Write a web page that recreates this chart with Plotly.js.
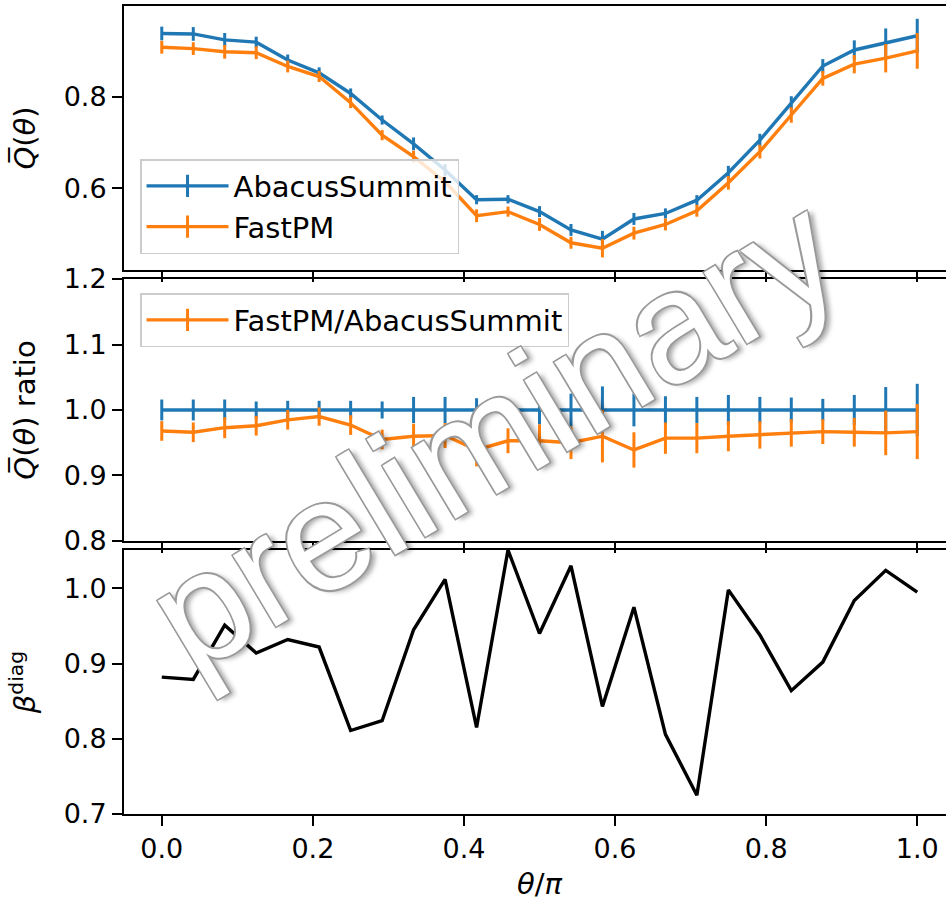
<!DOCTYPE html>
<html>
<head>
<meta charset="utf-8">
<script src="https://cdn.plot.ly/plotly-3.0.1.min.js"></script>
<style>
html,body{margin:0;padding:0;overflow:hidden;background:#fff;}
#chart{width:960px;height:901px;}
</style>
</head>
<body>
<div id="chart"></div>
<script>
// theta / pi
const theta = [0, 0.0417, 0.0833, 0.125, 0.1667, 0.2083, 0.25, 0.2917, 0.3333, 0.375, 0.4167, 0.4583, 0.5,
               0.5417, 0.5833, 0.625, 0.6667, 0.7083, 0.75, 0.7917, 0.8333, 0.875, 0.9167, 0.9583, 1.0];

// Panel 1: mean Q(theta)
const qAbacus = [0.938,0.937,0.924,0.919,0.880,0.852,0.807,0.749,0.697,0.640,0.575,0.576,0.549,
                 0.509,0.489,0.533,0.545,0.574,0.634,0.705,0.786,0.867,0.902,0.917,0.933];
const qAbacusErr = [0.015,0.015,0.015,0.012,0.012,0.012,0.011,0.010,0.014,0.013,0.010,0.009,0.012,
                    0.013,0.018,0.013,0.011,0.011,0.015,0.014,0.015,0.015,0.021,0.032,0.037];
const qFastPM = [0.908,0.905,0.898,0.896,0.866,0.844,0.787,0.716,0.669,0.614,0.540,0.549,0.521,
                 0.481,0.469,0.502,0.521,0.551,0.612,0.680,0.760,0.840,0.871,0.884,0.900];
const qFastPMErr = [0.014,0.014,0.015,0.014,0.013,0.012,0.012,0.011,0.013,0.012,0.014,0.011,0.014,
                    0.013,0.020,0.014,0.013,0.013,0.015,0.015,0.017,0.016,0.020,0.031,0.039];

// Panel 2: ratio
const ratioAbacus = [1,1,1,1,1,1,1,1,1,1,1,1,1,1,1,1,1,1,1,1,1,1,1,1,1];
const ratioAbacusErr = [0.016,0.016,0.016,0.013,0.014,0.014,0.014,0.013,0.020,0.020,0.018,0.016,0.022,
                        0.025,0.036,0.025,0.021,0.020,0.023,0.020,0.019,0.017,0.023,0.035,0.040];
const ratioFastPM = [0.968,0.966,0.973,0.976,0.985,0.990,0.977,0.955,0.960,0.961,0.939,0.953,0.953,
                     0.950,0.960,0.939,0.957,0.957,0.960,0.962,0.965,0.967,0.966,0.965,0.967];
const ratioFastPMErr = [0.015,0.015,0.016,0.015,0.015,0.014,0.015,0.015,0.019,0.019,0.025,0.019,0.025,
                        0.025,0.040,0.027,0.024,0.023,0.023,0.021,0.021,0.019,0.022,0.034,0.042];

// Panel 3: beta diag
const betaDiag = [0.882,0.879,0.951,0.914,0.932,0.922,0.811,0.824,0.945,1.012,0.815,1.051,0.940,
                  1.030,0.843,0.975,0.806,0.725,0.998,0.938,0.864,0.902,0.984,1.024,0.995];

const xTicks = [0, 0.2, 0.4, 0.6, 0.8, 1.0];
const xTickText = ['0.0','0.2','0.4','0.6','0.8','1.0'];

const names = ['AbacusSummit', 'FastPM', 'FastPM/AbacusSummit'];

const BLUE = '#1f77b4', ORANGE = '#ff7f0e';
const LW = 3.4, EW = 3;

function errTrace(x, y, e, color, xa, ya) {
  return {
    x: x, y: y, type: 'scatter', mode: 'lines', xaxis: xa, yaxis: ya,
    line: {color: color, width: LW}, showlegend: false, hoverinfo: 'skip',
    error_y: {type: 'data', array: e, visible: true, color: color, thickness: EW, width: 0}
  };
}
function legendTrace(name, color, leg) {
  return {
    x: [null], y: [null], type: 'scatter', mode: 'lines+markers', name: name, legend: leg,
    xaxis: 'x', yaxis: 'y',
    line: {color: color, width: LW},
    marker: {symbol: 'line-ns', size: 16, color: color, line: {color: color, width: EW}}
  };
}

const traces = [
  errTrace(theta, qAbacus, qAbacusErr, BLUE, 'x', 'y'),
  errTrace(theta, qFastPM, qFastPMErr, ORANGE, 'x', 'y'),
  errTrace(theta, ratioAbacus, ratioAbacusErr, BLUE, 'x2', 'y2'),
  errTrace(theta, ratioFastPM, ratioFastPMErr, ORANGE, 'x2', 'y2'),
  {x: theta, y: betaDiag, type: 'scatter', mode: 'lines', xaxis: 'x3', yaxis: 'y3',
   line: {color: 'black', width: LW}, showlegend: false},
  legendTrace(names[0], BLUE, 'legend'),
  legendTrace(names[1], ORANGE, 'legend'),
  legendTrace(names[2], ORANGE, 'legend2')
];

const axBase = {
  showline: true, mirror: true, linecolor: 'black', linewidth: 2,
  ticks: 'outside', ticklen: 10, tickwidth: 2, tickcolor: 'black',
  showgrid: false, zeroline: false, automargin: false,
  tickfont: {family: 'DejaVu Sans', size: 27, color: 'black'}
};
function xAxis(anchor, labels, extra) {
  return Object.assign({}, axBase, {
    domain: [0, 1], anchor: anchor, range: [-0.05, 1.05],
    tickmode: 'array', tickvals: xTicks, ticktext: xTickText, showticklabels: labels
  }, extra || {});
}
function yAxis(anchor, dom, range, dtick, title) {
  return Object.assign({}, axBase, {
    domain: dom, anchor: anchor, range: range, tick0: 0, dtick: dtick, tickformat: '.1f',
    title: {text: title, font: {family: 'DejaVu Sans', size: 29, color: 'black'}, standoff: 19}
  });
}

const legBase = {
  xanchor: 'left', yanchor: 'top', bgcolor: 'rgba(255,255,255,0.8)',
  bordercolor: '#cccccc', borderwidth: 1.5,
  font: {family: 'DejaVu Sans', size: 29, color: 'black'}, itemwidth: 82
};

const layout = {
  width: 960, height: 901,
  margin: {l: 124, r: 5, t: 6, b: 87, pad: 0},
  paper_bgcolor: 'white', plot_bgcolor: 'white',
  font: {family: 'DejaVu Sans', size: 27, color: 'black'},
  showlegend: true,
  xaxis: xAxis('y', false),
  xaxis2: xAxis('y2', false),
  xaxis3: xAxis('y3', true, {
    title: {text: '<i>θ</i>/<i>π</i>', font: {family: 'DejaVu Sans', size: 29, color: 'black'}, standoff: 10}
  }),
  yaxis: yAxis('x', [0.6733, 1], [0.4216, 0.998], 0.2, '<i>Q̅</i>(<i>θ</i>)'),
  yaxis2: yAxis('x2', [0.3379, 0.6621], [0.8, 1.2], 0.1, '<i>Q̅</i>(<i>θ</i>) ratio'),
  yaxis3: yAxis('x3', [0, 0.3267], [0.7, 1.051], 0.1, '<i>β</i><sup>diag</sup>'),
  legend: Object.assign({}, legBase, {x: 0.0193, y: 0.8106}),
  legend2: Object.assign({}, legBase, {x: 0.0193, y: 0.6448}),
  annotations: [{
    xref: 'paper', yref: 'paper', x: 0.444, y: 0.472, xanchor: 'center', yanchor: 'middle',
    text: 'preliminary', showarrow: false, textangle: -31,
    font: {family: 'Liberation Sans', size: 157, color: 'white',
           shadow: '-1.5px -1.5px 0 #9a9a9a, 1.5px -1.5px 0 #9a9a9a, -1.5px 1.5px 0 #9a9a9a, 1.5px 1.5px 0 #9a9a9a, 4px 4px 5px rgba(0,0,0,0.35)'}
  }]
};

Plotly.newPlot('chart', traces, layout, {displayModeBar: false, staticPlot: true});
</script>
</body>
</html>
